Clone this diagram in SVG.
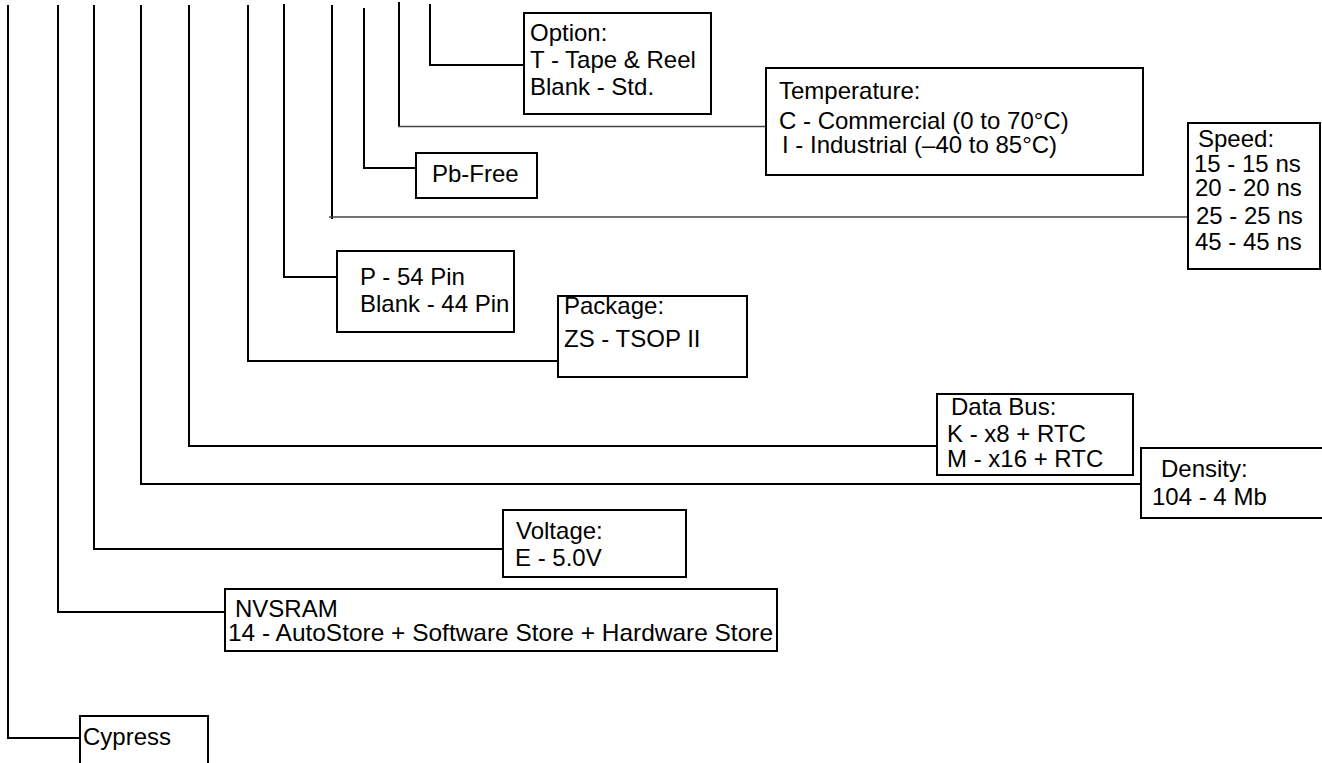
<svg xmlns="http://www.w3.org/2000/svg" width="1322" height="763" viewBox="0 0 1322 763">
<style>
.bx{fill:none;stroke:#000;stroke-width:2}
.ln{fill:none;stroke:#000;stroke-width:2}
.thin{fill:none;stroke:#444;stroke-width:1.3}
text{font-family:"Liberation Sans",Arial,sans-serif;font-size:24px;fill:#000}
</style>
<rect width="1322" height="763" fill="#fff"/>
<g id="connectors">
<polyline class="ln" points="8,5 8,738 80,738"/>
<polyline class="ln" points="58,5 58,613"/>
<polyline class="ln" points="57,612 225,612"/>
<polyline class="ln" points="94,5 94,549 503,549"/>
<polyline class="ln" points="141,5 141,484 1141,484"/>
<polyline class="ln" points="189,5 189,446 937,446"/>
<polyline class="ln" points="248,5 248,361 558,361"/>
<polyline class="ln" points="284,4 284,277 337,277"/>
<polyline class="ln" points="332,5 332,219"/>
<line class="thin" x1="329" y1="217" x2="1188" y2="217"/>
<polyline class="ln" points="364,8 364,168 416,168"/>
<polyline class="ln" points="399,2 399,127"/>
<line class="thin" x1="398" y1="126.5" x2="766" y2="126.5"/>
<polyline class="ln" points="430,4 430,65 524,65"/>
</g>
<g id="option">
<rect class="bx" x="524" y="13" width="187" height="101"/>
<text x="530" y="41">Option:</text>
<text x="530" y="68">T - Tape &amp; Reel</text>
<text x="530" y="95">Blank - Std.</text>
</g>
<g id="temperature">
<rect class="bx" x="766" y="68" width="377" height="107"/>
<text x="779" y="99">Temperature:</text>
<text x="779" y="129">C - Commercial (0 to 70°C)</text>
<text x="782" y="153">I - Industrial (–40 to 85°C)</text>
</g>
<g id="speed">
<rect class="bx" x="1188" y="123" width="132" height="146"/>
<text x="1198" y="147">Speed:</text>
<text x="1194" y="172">15 - 15 ns</text>
<text x="1195" y="196">20 - 20 ns</text>
<text x="1196" y="224">25 - 25 ns</text>
<text x="1195" y="250">45 - 45 ns</text>
</g>
<g id="pbfree">
<rect class="bx" x="416" y="153" width="121" height="45"/>
<text x="432" y="182">Pb-Free</text>
</g>
<g id="pins">
<rect class="bx" x="337" y="251" width="177" height="81"/>
<text x="360" y="285">P - 54 Pin</text>
<text x="360" y="312">Blank - 44 Pin</text>
</g>
<g id="package">
<rect class="bx" x="558" y="296" width="189" height="81"/>
<text x="564" y="314">Package:</text>
<text x="564" y="347">ZS - TSOP II</text>
</g>
<g id="databus">
<rect class="bx" x="937" y="394" width="196" height="81"/>
<text x="951" y="415">Data Bus:</text>
<text x="947" y="442">K - x8 + RTC</text>
<text x="947" y="467">M - x16 + RTC</text>
</g>
<g id="density">
<path class="bx" d="M1322,448 H1141 V518 H1322"/>
<text x="1161" y="477">Density:</text>
<text x="1152" y="505">104 - 4 Mb</text>
</g>
<g id="voltage">
<rect class="bx" x="503" y="510" width="183" height="67"/>
<text x="516" y="539">Voltage:</text>
<text x="515" y="566">E - 5.0V</text>
</g>
<g id="nvsram">
<rect class="bx" x="225" y="589" width="552" height="62"/>
<text x="235" y="617">NVSRAM</text>
<text x="228" y="641" textLength="545" lengthAdjust="spacingAndGlyphs">14 - AutoStore + Software Store + Hardware Store</text>
</g>
<g id="cypress">
<path class="bx" d="M80,763 V716 H208 V763"/>
<text x="83" y="745">Cypress</text>
</g>
</svg>
